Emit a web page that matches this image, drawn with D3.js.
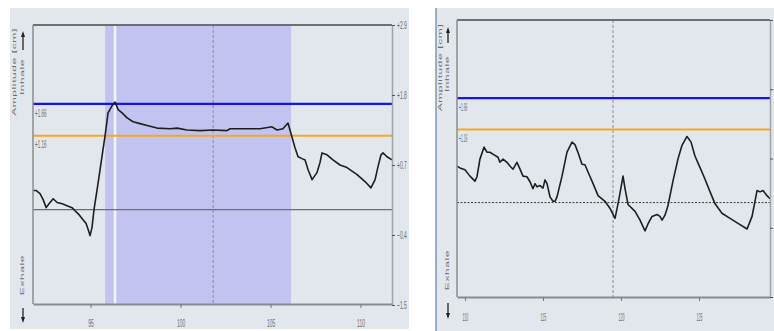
<!DOCTYPE html>
<html>
<head>
<meta charset="utf-8">
<script src="https://cdn.jsdelivr.net/npm/d3@7"></script>
<style>
  html, body { margin: 0; padding: 0; background: #ffffff; }
  svg { display: block; }
</style>
</head>
<body>
<svg id="chart" width="774" height="331"></svg>
<script>
// ---- Breathing trace, first window (time in s, amplitude in cm) ----
const leftTime = [91.81, 91.97, 92.19, 92.36, 92.53, 92.69, 92.92, 93.14, 93.42, 93.69,
  93.97, 94.14, 94.36, 94.58, 94.75, 94.86, 94.97, 95.08, 95.19, 95.36,
  95.53, 95.69, 95.81, 95.97, 96.19, 96.36, 96.53, 96.75, 97.03, 97.36,
  97.75, 98.14, 98.69, 99.42, 99.81, 100.36, 101.08, 101.81, 102.58, 102.75,
  103.31, 104.42, 105.08, 105.36, 105.69, 105.97, 106.19, 106.36, 106.53, 106.75,
  106.92, 107.08, 107.31, 107.58, 107.75, 107.86, 108.14, 108.47, 108.86, 109.25,
  109.81, 110.25, 110.58, 110.81, 110.97, 111.14, 111.25, 111.47, 111.75];
const leftAmp = [0.30, 0.30, 0.25, 0.16, 0.03, 0.09, 0.17, 0.11, 0.09, 0.06,
  0.03, -0.02, -0.08, -0.16, -0.22, -0.31, -0.41, -0.28, 0.00, 0.31,
  0.63, 0.94, 1.17, 1.52, 1.63, 1.69, 1.57, 1.52, 1.44, 1.38,
  1.35, 1.32, 1.28, 1.27, 1.28, 1.25, 1.24, 1.25, 1.24, 1.27,
  1.27, 1.27, 1.30, 1.25, 1.27, 1.36, 1.14, 0.97, 0.83, 0.80,
  0.78, 0.63, 0.47, 0.58, 0.74, 0.89, 0.86, 0.78, 0.70, 0.66,
  0.55, 0.44, 0.34, 0.47, 0.67, 0.86, 0.89, 0.83, 0.78];

// ---- Breathing trace, second window ----
const rightTime = [109.49, 109.68, 110.00, 110.32, 110.64, 110.77, 110.96, 111.22, 111.41, 111.60,
  111.79, 112.12, 112.24, 112.44, 112.69, 112.88, 113.08, 113.33, 113.53, 113.72,
  113.97, 114.17, 114.36, 114.49, 114.62, 114.81, 115.00, 115.13, 115.26, 115.45,
  115.64, 115.77, 115.90, 116.22, 116.54, 116.86, 117.05, 117.24, 117.50, 117.69,
  117.88, 118.21, 118.53, 118.97, 119.29, 119.62, 119.87, 120.13, 120.26, 120.45,
  120.90, 121.22, 121.54, 121.73, 121.99, 122.31, 122.50, 122.63, 122.82, 123.01,
  123.33, 123.65, 123.91, 124.23, 124.49, 124.74, 125.06, 125.32, 125.71, 126.03,
  126.47, 126.99, 127.50, 128.08, 128.40, 128.72, 128.91, 129.10, 129.36, 129.55];
const rightAmp = [0.58, 0.55, 0.52, 0.42, 0.34, 0.41, 0.69, 0.88, 0.80, 0.80,
  0.77, 0.72, 0.64, 0.69, 0.64, 0.58, 0.53, 0.64, 0.53, 0.42,
  0.41, 0.33, 0.22, 0.30, 0.25, 0.27, 0.23, 0.36, 0.30, 0.09,
  0.02, 0.02, 0.09, 0.42, 0.80, 0.96, 0.92, 0.80, 0.61, 0.60,
  0.49, 0.30, 0.11, 0.02, -0.09, -0.25, 0.06, 0.42, 0.22, -0.03,
  -0.14, -0.28, -0.45, -0.34, -0.22, -0.19, -0.22, -0.28, -0.20, -0.05,
  0.34, 0.69, 0.91, 1.05, 0.96, 0.74, 0.56, 0.41, 0.17, -0.02,
  -0.17, -0.25, -0.33, -0.42, -0.22, 0.19, 0.17, 0.19, 0.11, 0.06];

// ---- Shared settings ----
const ampTicks = [-1.5, -0.4, 0.7, 1.8, 2.9];
const upperThreshold = 1.66;
const lowerThreshold = 1.16;
const leftTimeTicks = [95, 100, 105, 110];
const rightTimeTicks = [110, 115, 120, 125];
const gateWindow = [95.81, 106.14];
const gateMarker = 96.36;
const leftCursor = 101.81;
const rightCursor = 119.49;
const leftView = [91.8, 111.75];
const rightView = [109.49, 129.55];

const svg = d3.select("#chart");
const FONT = "'Liberation Sans', Arial, sans-serif";
const TEXT_COL = "#6c6c6c";

// Text squeezed horizontally (screen x axis), optionally rotated
function squeezedText(g, x, y, str, opts) {
  const o = Object.assign({ sx: 0.45, size: 11, rotate: 0, anchor: "middle", fill: TEXT_COL, spacing: 0 }, opts);
  g.append("text")
    .attr("transform", `translate(${x},${y}) scale(${o.sx},1) rotate(${o.rotate})`)
    .attr("text-anchor", o.anchor)
    .attr("dominant-baseline", "central")
    .attr("font-family", FONT)
    .attr("font-size", o.size)
    .attr("letter-spacing", o.spacing)
    .attr("fill", o.fill)
    .text(str);
}

function arrow(g, x, tail, tip) {
  const dir = tip < tail ? 1 : -1;
  g.append("line").attr("x1", x).attr("x2", x).attr("y1", tail).attr("y2", tip + dir * 3)
    .attr("stroke", "#222").attr("stroke-width", 1.3);
  g.append("path")
    .attr("d", `M${x},${tip} L${x - 2},${tip + dir * 6} L${x + 2},${tip + dir * 6} Z`)
    .attr("fill", "#222");
}

function drawPanel(p) {
  const g = svg.append("g");

  // panel background
  g.append("rect").attr("x", p.bg[0]).attr("y", p.bg[1]).attr("width", p.bg[2]).attr("height", p.bg[3])
    .attr("fill", "#e2e7ee");
  if (p.border) {
    g.append("line").attr("x1", p.bg[0]).attr("x2", p.bg[0]).attr("y1", p.bg[1]).attr("y2", p.bg[1] + p.bg[3])
      .attr("stroke", "#7d96b6").attr("stroke-width", 1.5);
  }

  const x = d3.scaleLinear().domain(p.view).range([p.x0, p.x1]);
  const y = d3.scaleLinear().domain([ampTicks[0], ampTicks[ampTicks.length - 1]]).range([p.yBottom, p.yTop]);

  // gating window
  if (p.gate) {
    g.append("rect")
      .attr("x", x(p.gate[0])).attr("y", p.yTop)
      .attr("width", x(p.gate[1]) - x(p.gate[0])).attr("height", p.axisY - p.yTop)
      .attr("fill", "#c3c3f1");
    g.append("line").attr("x1", x(p.marker)).attr("x2", x(p.marker))
      .attr("y1", p.yTop).attr("y2", p.axisY)
      .attr("stroke", "#f4f6fb").attr("stroke-width", 2.5);
  }

  // cursor
  g.append("line").attr("x1", x(p.cursor)).attr("x2", x(p.cursor))
    .attr("y1", p.yTop).attr("y2", p.axisY)
    .attr("stroke", "#8a8a98").attr("stroke-width", 1).attr("stroke-dasharray", "3,2");

  // zero baseline
  g.append("line").attr("x1", p.x0).attr("x2", p.x1).attr("y1", y(0)).attr("y2", y(0))
    .attr("stroke", p.zeroDashed ? "#3c3c3c" : "#6e6e6e")
    .attr("stroke-width", p.zeroDashed ? 1 : 1.3)
    .attr("stroke-dasharray", p.zeroDashed ? "2,1.5" : null);

  // thresholds
  g.append("line").attr("x1", p.x0).attr("x2", p.x1).attr("y1", y(upperThreshold)).attr("y2", y(upperThreshold))
    .attr("stroke", "#1414ee").attr("stroke-width", 2.2);
  g.append("line").attr("x1", p.x0).attr("x2", p.x1).attr("y1", y(lowerThreshold)).attr("y2", y(lowerThreshold))
    .attr("stroke", "#f5a820").attr("stroke-width", 2);

  // trace
  const pts = p.time.map((t, i) => [t, p.amp[i]]);
  g.append("path").datum(pts)
    .attr("d", d3.line().x(d => x(d[0])).y(d => y(d[1])))
    .attr("fill", "none").attr("stroke", "#1e1e1e").attr("stroke-width", 1.6)
    .attr("stroke-linejoin", "round");

  // frame: top border, left axis line
  g.append("line").attr("x1", p.x0).attr("x2", p.x1).attr("y1", p.yTop).attr("y2", p.yTop)
    .attr("stroke", "#6f6f6f").attr("stroke-width", 2);
  g.append("line").attr("x1", p.x0).attr("x2", p.x0).attr("y1", p.yTop).attr("y2", p.axisY)
    .attr("stroke", "#8c8c8c").attr("stroke-width", 1.5);

  // time axis
  const xAxis = g.append("g").attr("transform", `translate(0,${p.axisY})`)
    .call(d3.axisBottom(x).tickValues(p.xTicks).tickSize(4).tickSizeOuter(0).tickFormat(d3.format("d")));
  xAxis.select(".domain").attr("stroke", "#8a8a8a").attr("stroke-width", 2);
  xAxis.selectAll(".tick line").attr("stroke", "#777");
  xAxis.selectAll(".tick text")
    .attr("y", null).attr("dy", null)
    .attr("transform", `translate(0,${p.xLabelDy}) scale(${p.sx},1)`)
    .attr("dominant-baseline", "central")
    .attr("font-family", FONT).attr("font-size", 11).attr("fill", TEXT_COL);

  // amplitude axis on the right
  const yAxis = g.append("g").attr("transform", `translate(${p.x1},0)`)
    .call(d3.axisRight(y).tickValues(ampTicks).tickSize(3).tickSizeOuter(0)
      .tickFormat(p.yLabels ? d3.format("+.1f") : () => ""));
  yAxis.select(".domain").attr("stroke", "#a3a3a3").attr("stroke-width", 1.5);
  yAxis.selectAll(".tick line").attr("stroke", "#555");
  yAxis.selectAll(".tick text")
    .attr("x", null).attr("dy", null)
    .attr("transform", `translate(5,0) scale(${p.sx},1)`)
    .attr("dominant-baseline", "central")
    .attr("font-family", FONT).attr("font-size", 11).attr("fill", TEXT_COL);

  // threshold values
  squeezedText(g, p.x0 + 2, y(upperThreshold) + 9.5, "+1.66", { sx: p.sx, anchor: "start", size: 10 });
  squeezedText(g, p.x0 + 2, y(lowerThreshold) + 9.5, "+1.16", { sx: p.sx, anchor: "start", size: 10 });

  // axis title and direction hints
  squeezedText(g, p.titleX, p.titleY, "Amplitude [cm]", { sx: 0.4, rotate: -90, size: 12, spacing: 0.6 });
  squeezedText(g, p.hintX, p.inhaleY, "Inhale", { sx: 0.4, rotate: -90, size: 12, spacing: 0.6 });
  squeezedText(g, p.hintX, p.exhaleY, "Exhale", { sx: 0.4, rotate: -90, size: 12, spacing: 0.6 });
  arrow(g, p.hintX + 0.5, p.upArrow[1], p.upArrow[0]);
  arrow(g, p.hintX + 0.5, p.downArrow[0], p.downArrow[1]);
}

drawPanel({
  bg: [10, 8, 399, 321], border: false,
  x0: 33, x1: 392, yTop: 25, yBottom: 305, axisY: 304,
  view: leftView, xTicks: leftTimeTicks,
  time: leftTime, amp: leftAmp,
  gate: gateWindow, marker: gateMarker, cursor: leftCursor,
  zeroDashed: false, yLabels: true, sx: 0.45, xLabelDy: 19,
  titleX: 14, titleY: 72, hintX: 22.5, inhaleY: 77, exhaleY: 275,
  upArrow: [31, 50], downArrow: [308, 323]
});

drawPanel({
  bg: [436, 8, 338, 323], border: true,
  x0: 457, x1: 770, yTop: 20, yBottom: 297, axisY: 297,
  view: rightView, xTicks: rightTimeTicks,
  time: rightTime, amp: rightAmp,
  gate: null, cursor: rightCursor,
  zeroDashed: true, yLabels: false, sx: 0.33, xLabelDy: 21,
  titleX: 440.5, titleY: 67.5, hintX: 447.5, inhaleY: 74, exhaleY: 270,
  upArrow: [27, 43], downArrow: [303, 319]
});
</script>
</body>
</html>
